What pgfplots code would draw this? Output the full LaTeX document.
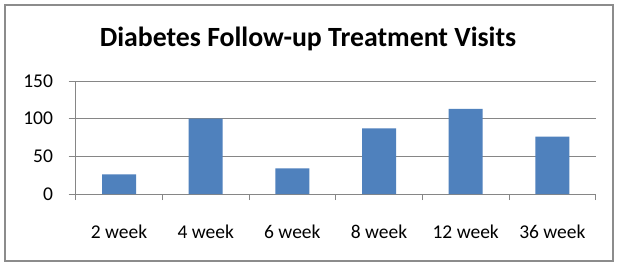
\documentclass[border=0pt]{standalone}
\usepackage{fontspec}
\setmainfont{Carlito}
\usepackage{pgfplots}
\pgfplotsset{compat=1.18}
\definecolor{barblue}{HTML}{4F81BD}
\definecolor{gridgray}{HTML}{868686}
\definecolor{framegray}{HTML}{8C8C8C}
\begin{document}
\begin{tikzpicture}[x=1bp,y=1bp]
\path[fill=white] (0,0) rectangle (620,269);
\draw[line width=2bp,color=framegray,fill=white] (5,8) rectangle (613,264);
\node[anchor=base,inner sep=0pt,font=\fontsize{27.8bp}{33bp}\selectfont\bfseries] at (308,223) {Diabetes Follow-up Treatment Visits};
\begin{axis}[
  at={(75.7bp,75bp)}, anchor=south west,
  scale only axis, width=520bp, height=113bp,
  xmin=-0.5, xmax=5.5, ymin=0, ymax=150,
  axis x line=bottom, axis y line=left,
  axis line style={-, color=gridgray, line width=1bp},
  xtick={0,1,2,3,4,5},
  xticklabels={2 week,4 week,6 week,8 week,12 week,36 week},
  major x tick style={draw=none},
  minor xtick={-0.5,0.5,1.5,2.5,3.5,4.5,5.5},
  minor x tick style={color=gridgray, line width=1bp},
  minor tick length=6bp,
  ytick={0,50,100,150},
  y tick style={color=gridgray, line width=1bp},
  major tick length=7bp,
  tick align=outside,
  ymajorgrids,
  grid style={color=gridgray, line width=1bp},
  /pgf/number format/assume math mode=true,
  tick label style={font=\fontsize{19.5bp}{23bp}\selectfont, inner sep=0pt},
  xticklabel style={anchor=base, yshift=-37.7bp},
  yticklabel style={anchor=east, xshift=-15.5bp},
  ybar, bar width=34bp,
  clip=false,
]
\addplot[fill=barblue, draw=none] coordinates {(0,26) (1,100) (2,34) (3,87) (4,113) (5,76)};
\end{axis}
\end{tikzpicture}
\end{document}
